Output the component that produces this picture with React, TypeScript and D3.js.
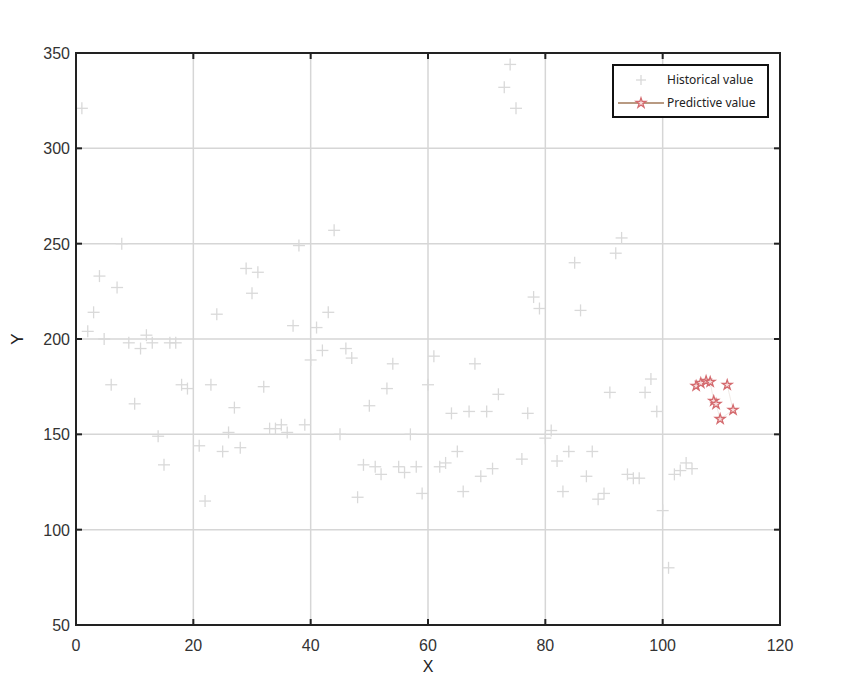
import React from "react";
import * as d3 from "d3";

const histX = [1, 2, 3, 4, 4.8, 6, 7, 7.8, 9, 10, 11, 12, 13, 14, 15, 16, 17, 18, 19, 21, 22, 23, 24, 25, 26, 27, 28, 29, 30, 31, 32, 33, 34, 35, 36, 37, 38, 39, 40, 41, 42, 43, 44, 45, 46, 47, 48, 49, 50, 51, 52, 53, 54, 55, 56, 57, 58, 59, 60, 61, 62, 63, 64, 65, 66, 67, 68, 69, 70, 71, 72, 73, 74, 75, 76, 77, 78, 79, 80, 81, 82, 83, 84, 85, 86, 87, 88, 89, 90, 91, 92, 93, 94, 95, 96, 97, 98, 99, 100, 101, 102, 103, 104, 105];
const histY = [321, 204, 214, 233, 200, 176, 227, 250, 198, 166, 195, 202, 198, 149, 134, 198, 198, 176, 174, 144, 115, 176, 213, 141, 151, 164, 143, 237, 224, 235, 175, 153, 153, 155, 151, 207, 249, 155, 189, 206, 194, 214, 257, 150, 195, 190, 117, 134, 165, 133, 129, 174, 187, 133, 130, 150, 133, 119, 176, 191, 133, 135, 161, 141, 120, 162, 187, 128, 162, 132, 171, 332, 344, 321, 137, 161, 222, 216, 148, 152, 136, 120, 141, 240, 215, 128, 141, 116, 119, 172, 245, 253, 129, 127, 127, 172, 179, 162, 110, 80, 129, 131, 135, 132];

const predX = [105.7, 106.5, 107.4, 108.1, 108.7, 109.1, 109.8, 112.0, 111.0];
const predY = [175.4, 176.9, 178.0, 177.5, 167.5, 165.9, 158.0, 162.8, 175.9];

const xTicks = [0, 20, 40, 60, 80, 100, 120];
const yTicks = [50, 100, 150, 200, 250, 300, 350];

const W = 866, H = 676;
const L = 76, R = 780, T = 53, B = 625;

export default function App() {
  const x = d3.scaleLinear().domain([0, 120]).range([L, R]);
  const y = d3.scaleLinear().domain([50, 350]).range([B, T]);
  const hist = histX.map((v, i) => [v, histY[i]] as [number, number]);
  const pred = predX.map((v, i) => [v, predY[i]] as [number, number]);
  const line = d3.line<[number, number]>().x(d => x(d[0])).y(d => y(d[1]));
  const star = d3.symbol().type(d3.symbolStar).size(30)() as string;
  const cross = (cx: number, cy: number, k: string | number, s = 6) => (
    <g key={k} stroke="#d9d9d9" strokeWidth={1.3}>
      <line x1={cx - s} x2={cx + s} y1={cy} y2={cy} />
      <line x1={cx} x2={cx} y1={cy - s} y2={cy + s} />
    </g>
  );
  const font = "'Liberation Sans', Arial, sans-serif";
  return (
    <div style={{ position: "absolute", left: 0, top: 0 }}>
      <svg width={W} height={H} style={{ display: "block", background: "#fff" }}>
        {/* grid */}
        {xTicks.slice(1, -1).map(t => (
          <line key={"gx" + t} x1={x(t)} x2={x(t)} y1={T} y2={B} stroke="#d6d6d6" strokeWidth={1.5} />
        ))}
        {yTicks.slice(1, -1).map(t => (
          <line key={"gy" + t} x1={L} x2={R} y1={y(t)} y2={y(t)} stroke="#d6d6d6" strokeWidth={1.5} />
        ))}
        {/* historical */}
        {hist.map((d, i) => cross(x(d[0]), y(d[1]), i))}
        {/* predictive */}
        <path d={line(pred) as string} fill="none" stroke="#c9b3a3" strokeWidth={0.8} opacity={0.35} />
        {pred.map((d, i) => (
          <path key={"p" + i} d={star} transform={`translate(${x(d[0])},${y(d[1])})`} fill="#f6dcdc" stroke="#d46a6e" strokeWidth={1.3} />
        ))}
        {/* frame */}
        <rect x={L} y={T} width={R - L} height={B - T} fill="none" stroke="#222" strokeWidth={2} />
        {/* ticks */}
        {xTicks.slice(1, -1).map(t => (
          <g key={"tx" + t} stroke="#222" strokeWidth={2}>
            <line x1={x(t)} x2={x(t)} y1={B} y2={B - 6} />
            <line x1={x(t)} x2={x(t)} y1={T} y2={T + 6} />
          </g>
        ))}
        {yTicks.slice(1, -1).map(t => (
          <g key={"ty" + t} stroke="#222" strokeWidth={2}>
            <line x1={L} x2={L + 6} y1={y(t)} y2={y(t)} />
            <line x1={R} x2={R - 6} y1={y(t)} y2={y(t)} />
          </g>
        ))}
        {/* tick labels */}
        {xTicks.map(t => (
          <text key={"lx" + t} x={x(t)} y={B + 26} textAnchor="middle" fontFamily={font} fontSize={16} fill="#333">{t}</text>
        ))}
        {yTicks.map(t => (
          <text key={"ly" + t} x={L - 6} y={y(t) + 6} textAnchor="end" fontFamily={font} fontSize={16} fill="#333">{t}</text>
        ))}
        <text x={428} y={672} textAnchor="middle" fontFamily={font} fontSize={16} fill="#222">X</text>
        <text transform={`translate(23,${y(200)}) rotate(-90)`} textAnchor="middle" fontFamily={font} fontSize={17} fill="#222">Y</text>
        {/* legend */}
        <rect x={613} y={65} width={155} height={52} fill="#fff" stroke="#111" strokeWidth={2} />
        {cross(641, 80, "leg", 5)}
        <line x1={618} x2={664} y1={103} y2={103} stroke="#b89a82" strokeWidth={1.8} />
        <path d={star} transform="translate(641,103)" fill="#f6dcdc" stroke="#d46a6e" strokeWidth={1.3} />
        <text x={667} y={84} fontFamily="'Noto Sans', sans-serif" fontSize={12} fill="#222">Historical value</text>
        <text x={667} y={107} fontFamily="'Noto Sans', sans-serif" fontSize={12} fill="#222">Predictive value</text>
      </svg>
    </div>
  );
}
